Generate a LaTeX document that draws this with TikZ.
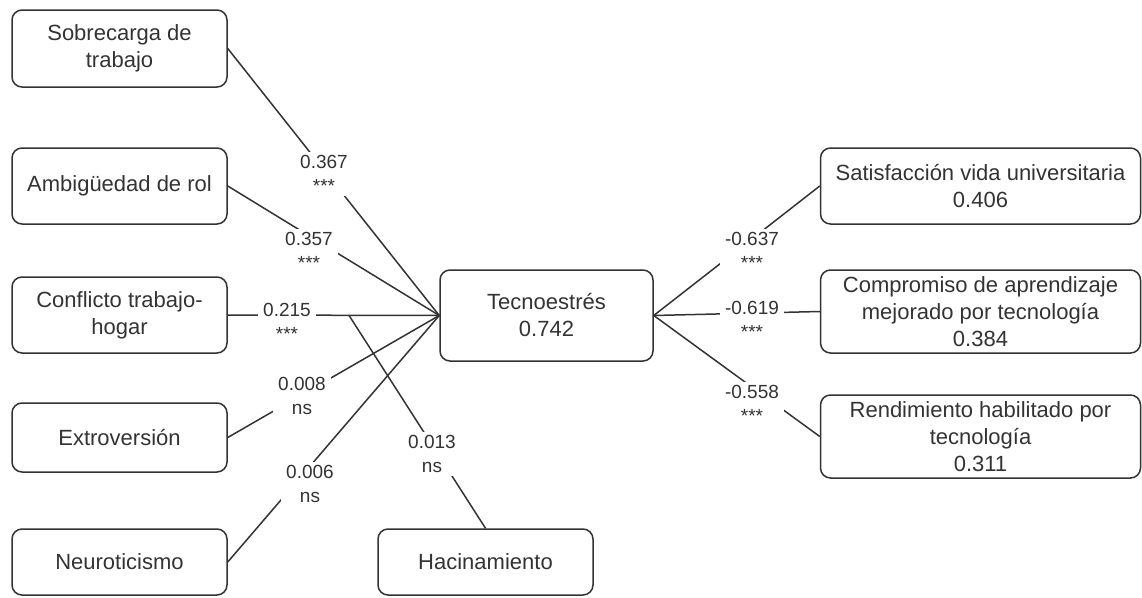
\documentclass[tikz,border=0pt]{standalone}
\usepackage{fontspec}
\setmainfont{Liberation Sans}
\usetikzlibrary{calc}
\definecolor{ink}{HTML}{333333}
\begin{document}
\begin{tikzpicture}[x=1pt,y=-1pt,
  box/.style={draw=ink, line width=1.5pt, rounded corners=10pt, align=center,
    text=ink, font=\fontsize{22}{27}\selectfont, inner sep=0pt},
  leftbox/.style={box, minimum width=215pt},
  rightbox/.style={box, minimum width=320pt},
  link/.style={draw=ink, line width=1.5pt},
  coef/.style={fill=white, text=ink, align=center,
    font=\fontsize{19}{24}\selectfont, inner xsep=5pt, inner ysep=3pt}]
\useasboundingbox (0,0) rectangle (1142,597);

% exogenous constructs
\node[leftbox, minimum height=77pt] (sob) at (119.5,48.5) {Sobrecarga de\\trabajo};
\node[leftbox, minimum height=76pt] (amb) at (119.5,186) {Ambigüedad de rol};
\node[leftbox, minimum height=76pt] (con) at (119.5,315) {Conflicto trabajo-\\hogar};
\node[leftbox, minimum height=69pt] (ext) at (119.5,437.5) {Extroversión};
\node[leftbox, minimum height=66pt] (neu) at (119.5,562) {Neuroticismo};
\node[leftbox, minimum height=66pt] (hac) at (485.5,562) {Hacinamiento};

% central construct
\node[box, minimum width=213pt, minimum height=91pt] (tec) at (546.5,315.5) {Tecnoestrés\\0.742};

% outcomes
\node[rightbox, minimum height=76pt] (sat) at (980.5,186) {Satisfacción vida universitaria\\0.406};
\node[rightbox, minimum height=83pt] (com) at (980.5,311.5) {Compromiso de aprendizaje\\mejorado por tecnología\\0.384};
\node[rightbox, minimum height=83pt] (ren) at (980.5,436.5) {Rendimiento habilitado por\\tecnología\\0.311};

% paths
\draw[link] (sob.east) -- (tec.west);
\draw[link] (amb.east) -- (tec.west);
\draw[link] (con.east) -- (tec.west);
\draw[link] (ext.east) -- (tec.west);
\draw[link] (neu.east) -- (tec.west);
\coordinate (join) at ($(con.east)!0.573!(tec.west)$);
\draw[link] (hac.north) -- (join);
\draw[link] (tec.east) -- (sat.west);
\draw[link] (tec.east) -- (com.west);
\draw[link] (tec.east) -- (ren.west);

% path coefficients
\node[coef] (csob) at (324,174) {0.367\\***};
\node[coef] (camb) at (309,251) {0.357\\***};
\node[coef] (ccon) at (287,322) {0.215\\***};
\node[coef] (cext) at (302,396) {0.008\\ns};
\node[coef] (cneu) at (310,484) {0.006\\ns};
\node[coef] (chac) at (432,454) {0.013\\ns};
\node[coef] (csat) at (752,251) {-0.637\\***};
\node[coef] (ccom) at (752,320) {-0.619\\***};
\node[coef] (cren) at (752,404) {-0.558\\***};
\end{tikzpicture}
\end{document}
